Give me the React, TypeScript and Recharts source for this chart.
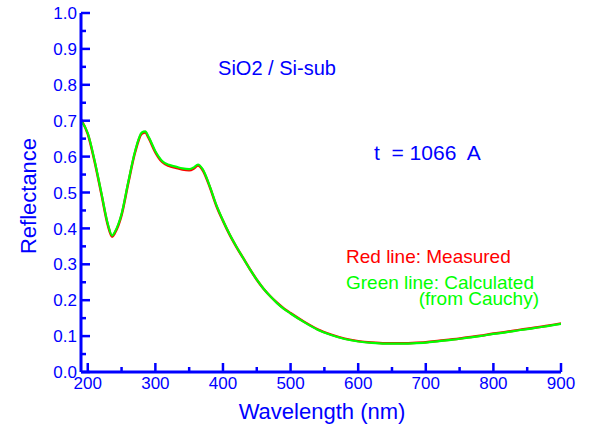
import { LineChart, Line, XAxis, YAxis } from 'recharts';

const BLUE = '#0000ff';
const FONT = '"Liberation Sans", Arial, Helvetica, sans-serif';

const wavelengths = [
  190, 200, 210, 220, 230, 236, 240, 250, 260, 270, 280, 285, 290, 300, 310, 320, 330, 340, 350, 357,
  363, 370, 380, 390, 400, 410, 420, 430, 440, 450, 460, 470, 480, 490, 500, 520, 540, 560, 580, 600,
  620, 640, 660, 680, 700, 720, 740, 760, 780, 800, 820, 840, 860, 880, 900,
];

const calculated = [
  0.700, 0.665, 0.590, 0.500, 0.410, 0.380, 0.390, 0.440, 0.530, 0.615, 0.667, 0.670, 0.655, 0.615,
  0.588, 0.577, 0.572, 0.567, 0.565, 0.570, 0.578, 0.565, 0.520, 0.466, 0.422, 0.383, 0.349, 0.317,
  0.286, 0.257, 0.232, 0.211, 0.192, 0.176, 0.163, 0.139, 0.118, 0.103, 0.092, 0.085, 0.081, 0.079,
  0.079, 0.080, 0.082, 0.086, 0.090, 0.095, 0.100, 0.106, 0.111, 0.117, 0.122, 0.128, 0.134,
];

const measured = [
  0.704, 0.663, 0.587, 0.497, 0.407, 0.377, 0.387, 0.437, 0.527, 0.612, 0.664, 0.667, 0.652, 0.612,
  0.585, 0.574, 0.569, 0.564, 0.562, 0.567, 0.575, 0.562, 0.518, 0.464, 0.421, 0.382, 0.348, 0.317,
  0.286, 0.257, 0.232, 0.211, 0.193, 0.177, 0.164, 0.140, 0.119, 0.104, 0.093, 0.086, 0.082, 0.080,
  0.080, 0.081, 0.083, 0.087, 0.091, 0.096, 0.101, 0.107, 0.112, 0.118, 0.123, 0.129, 0.135,
];

const xTicks = [200, 250, 300, 350, 400, 450, 500, 550, 600, 650, 700, 750, 800, 850, 900];
const yTicks = [0, 0.05, 0.1, 0.15, 0.2, 0.25, 0.3, 0.35, 0.4, 0.45, 0.5, 0.55, 0.6, 0.65, 0.7, 0.75, 0.8, 0.85, 0.9, 0.95, 1.0];

const data = wavelengths.map((w, i) => ({ w, measured: measured[i], calculated: calculated[i] }));

const isMajorX = (v: number) => v % 100 === 0;
const isMajorY = (v: number) => Math.round(v * 100) % 10 === 0;

const BottomTick = ({ x, y, payload }: any) => {
  const major = isMajorX(payload.value);
  return (
    <g>
      <line x1={x} x2={x} y1={y} y2={y - (major ? 9 : 5)} stroke={BLUE} strokeWidth={2.5} />
      {major && (
        <text x={x} y={y + 17} textAnchor="middle" fill={BLUE} fontSize={17} fontFamily={FONT}>
          {payload.value}
        </text>
      )}
    </g>
  );
};

const TopTick = ({ x, y, payload }: any) => {
  const major = isMajorX(payload.value);
  return <line x1={x} x2={x} y1={y} y2={y + (major ? 9 : 5)} stroke={BLUE} strokeWidth={2.5} />;
};

const LeftTick = ({ x, y, payload }: any) => {
  const major = isMajorY(payload.value);
  return (
    <g>
      <line x1={x} x2={x + (major ? 9 : 5)} y1={y} y2={y} stroke={BLUE} strokeWidth={2.5} />
      {major && (
        <text x={x - 4} y={y} dy="0.36em" textAnchor="end" fill={BLUE} fontSize={17} fontFamily={FONT}>
          {payload.value.toFixed(1)}
        </text>
      )}
    </g>
  );
};

const RightTick = ({ x, y, payload }: any) => {
  const major = isMajorY(payload.value);
  return <line x1={x} x2={x - (major ? 9 : 5)} y1={y} y2={y} stroke={BLUE} strokeWidth={2.5} />;
};

export default function App() {
  return (
    <div style={{ position: 'absolute', left: 0, top: 0, width: 590, height: 427, background: '#fff' }}>
      <LineChart width={590} height={427} data={data} margin={{ top: 13, right: 29, left: 0, bottom: 0 }}>
        <XAxis
          dataKey="w"
          type="number"
          domain={[190, 900]}
          allowDataOverflow
          ticks={xTicks}
          interval={0}
          height={55}
          tickSize={0}
          tickMargin={0}
          tick={<BottomTick />}
          axisLine={{ stroke: BLUE, strokeWidth: 3 }}
        />
        <XAxis
          xAxisId="top"
          orientation="top"
          dataKey="w"
          type="number"
          domain={[190, 900]}
          allowDataOverflow
          ticks={xTicks}
          interval={0}
          height={0}
          tickSize={0}
          tickMargin={0}
          tick={<TopTick />}
          axisLine={{ stroke: BLUE, strokeWidth: 3 }}
        />
        <YAxis
          type="number"
          domain={[0, 1]}
          allowDataOverflow
          ticks={yTicks}
          interval={0}
          width={81}
          tickSize={0}
          tickMargin={0}
          tick={<LeftTick />}
          axisLine={{ stroke: BLUE, strokeWidth: 3 }}
        />
        <YAxis
          yAxisId="right"
          orientation="right"
          type="number"
          domain={[0, 1]}
          allowDataOverflow
          ticks={yTicks}
          interval={0}
          width={0}
          tickSize={0}
          tickMargin={0}
          tick={<RightTick />}
          axisLine={{ stroke: BLUE, strokeWidth: 3 }}
        />
        <Line
          type="monotone"
          dataKey="measured"
          stroke="#ff0000"
          strokeWidth={2.5}
          dot={false}
          isAnimationActive={false}
        />
        <Line
          type="monotone"
          dataKey="calculated"
          stroke="#00ff00"
          strokeWidth={2.2}
          dot={false}
          isAnimationActive={false}
        />
      </LineChart>
      <svg
        width={590}
        height={427}
        style={{ position: 'absolute', left: 0, top: 0, pointerEvents: 'none' }}
        fontFamily={FONT}
      >
        <text x={322} y={411} dy="0.36em" textAnchor="middle" fill={BLUE} fontSize={22}>
          Wavelength (nm)
        </text>
        <text
          x={28}
          y={196}
          dy="0.36em"
          textAnchor="middle"
          fill={BLUE}
          fontSize={22}
          transform="rotate(-90 28 196)"
        >
          Reflectance
        </text>
        <text x={277} y={68} dy="0.36em" textAnchor="middle" fill={BLUE} fontSize={20}>
          SiO2 / Si-sub
        </text>
        <text x={374} y={152} dy="0.36em" fill={BLUE} fontSize={21} style={{ whiteSpace: 'pre' }}>
          {'t  = 1066  A'}
        </text>
        <text x={346} y={256} dy="0.36em" fill="#ff0000" fontSize={19}>
          Red line: Measured
        </text>
        <text x={346} y={282} dy="0.36em" fill="#00ff00" fontSize={19}>
          Green line: Calculated
        </text>
        <text x={539} y={298} dy="0.36em" textAnchor="end" fill="#00ff00" fontSize={19}>
          (from Cauchy)
        </text>
      </svg>
    </div>
  );
}
